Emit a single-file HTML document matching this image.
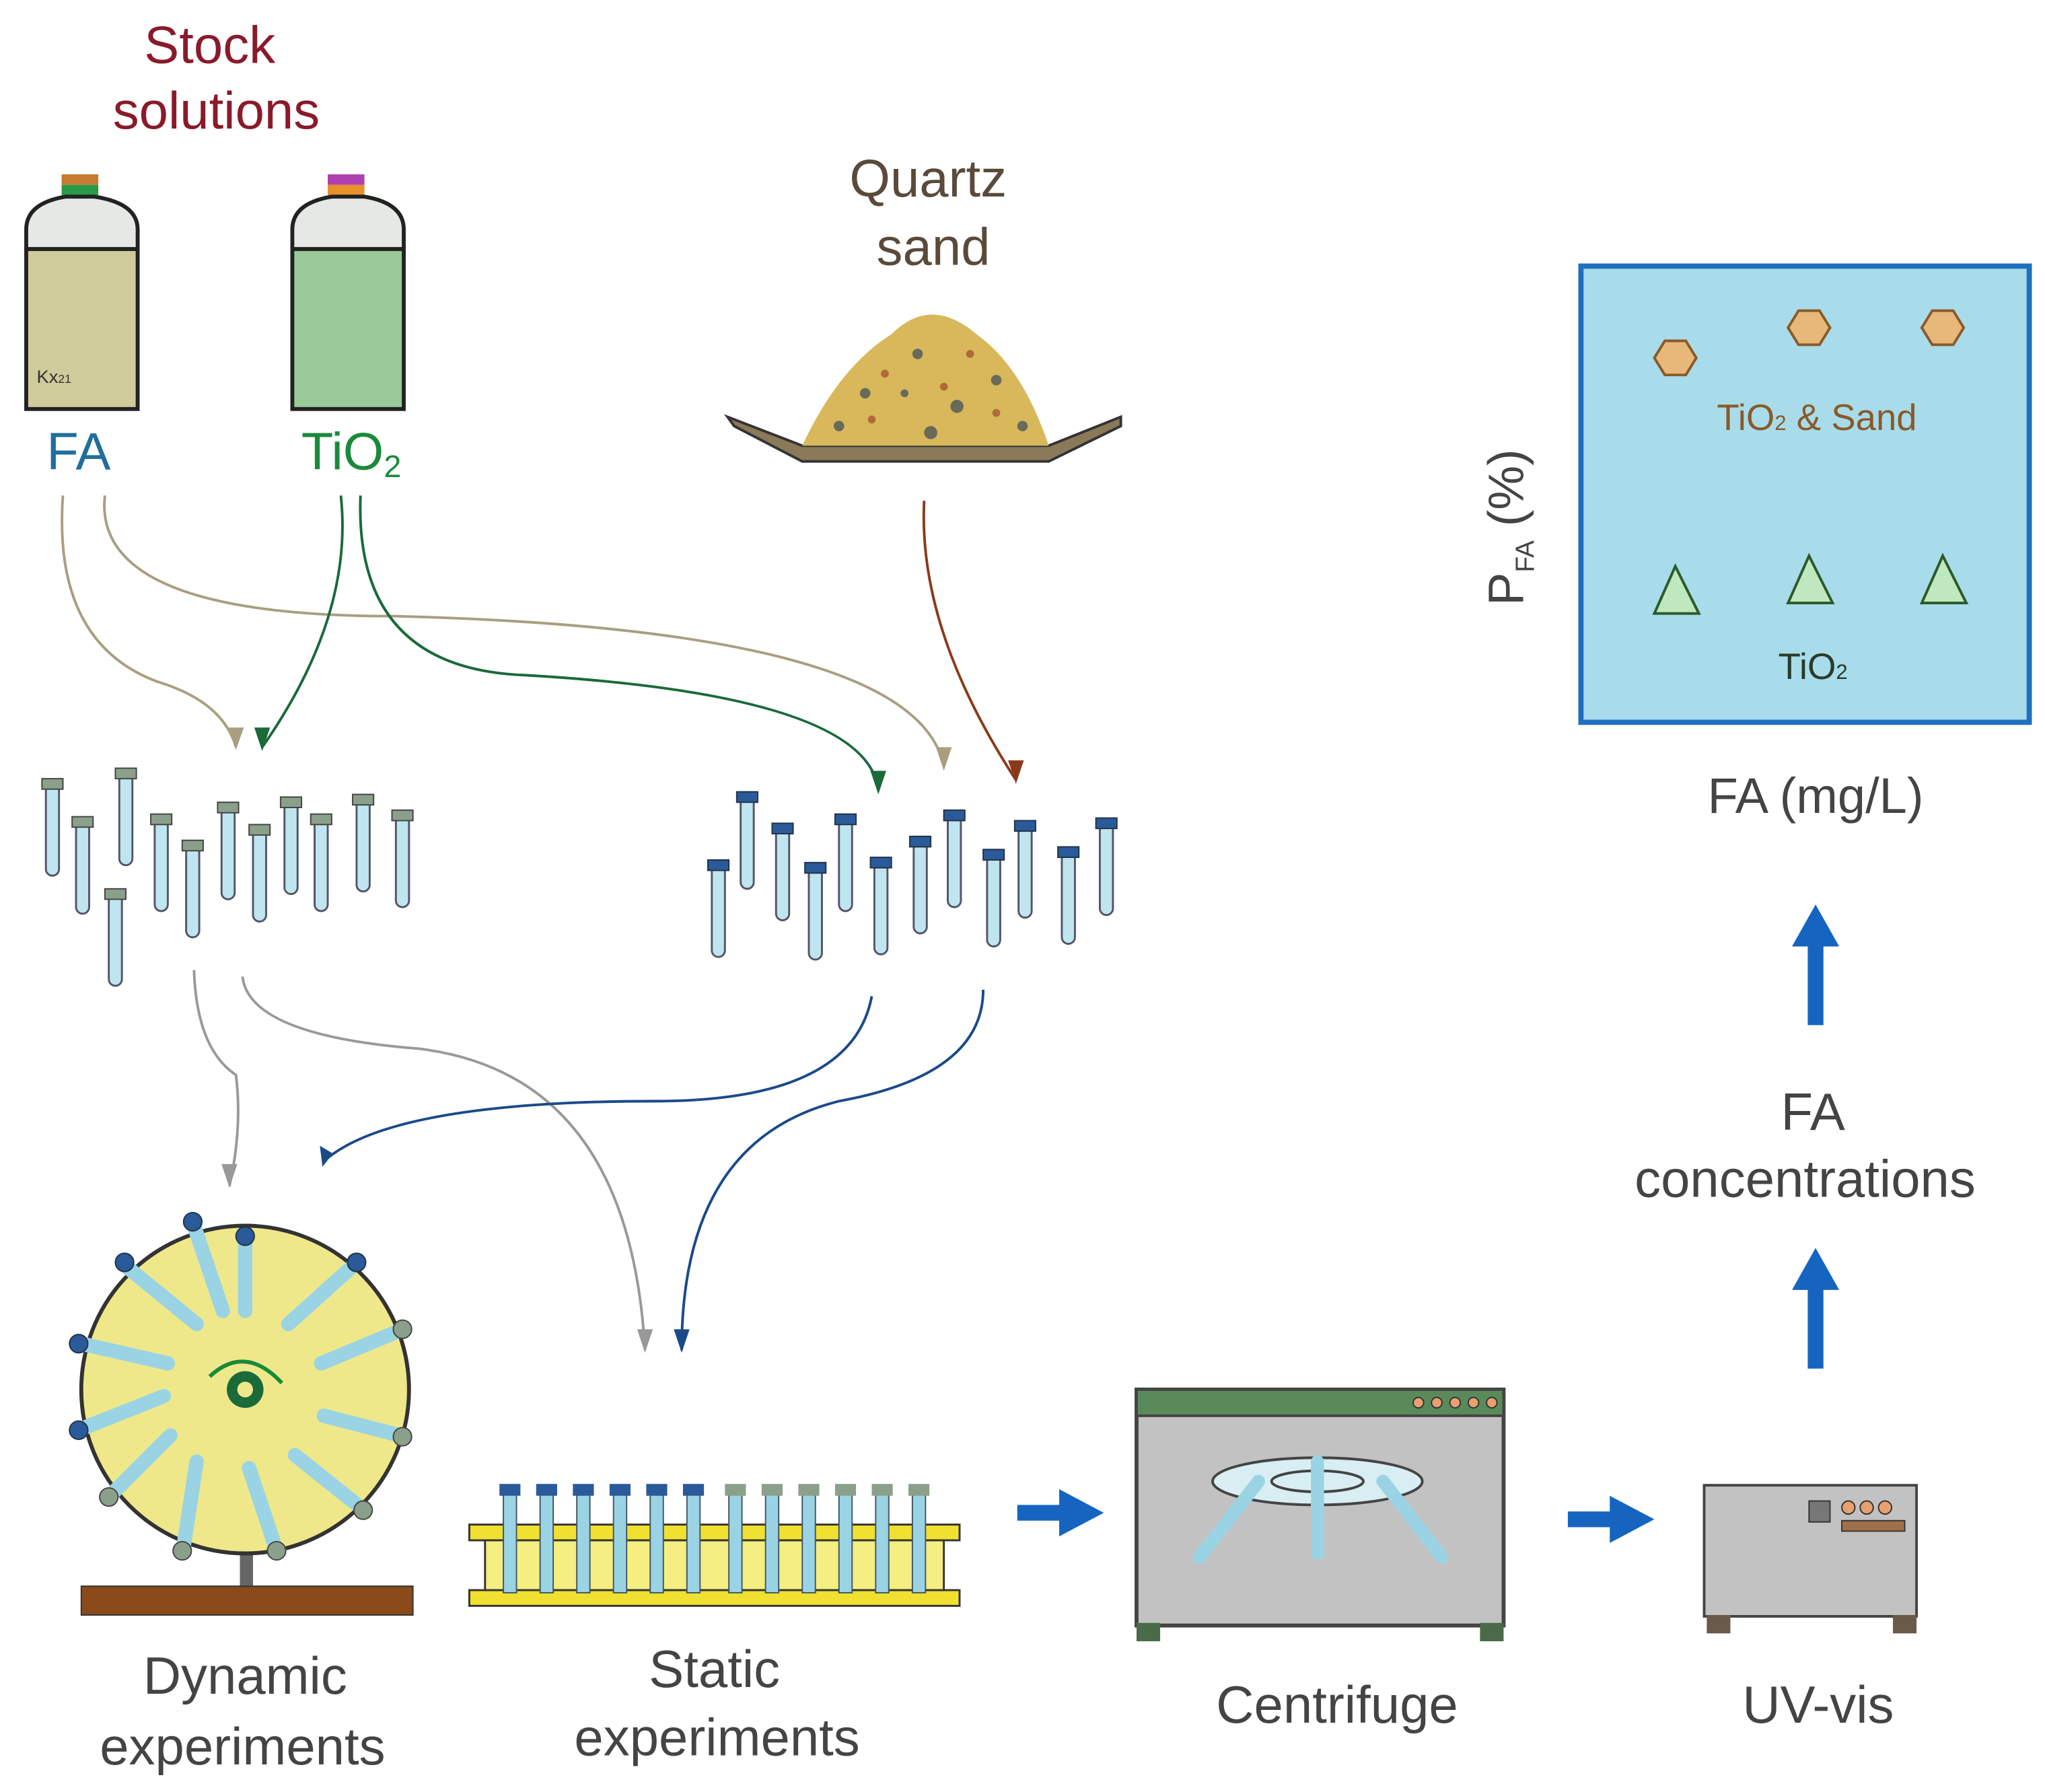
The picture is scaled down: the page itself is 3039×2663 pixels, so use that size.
<!DOCTYPE html>
<html><head><meta charset="utf-8"><style>html,body{margin:0;padding:0;background:#fff}svg{display:block}</style></head><body>
<svg width="3039" height="2663" viewBox="0 0 1560 1367" xmlns="http://www.w3.org/2000/svg" font-family="Liberation Sans, sans-serif">
<defs>
<g id="tg"><rect x="-5" y="0" width="10" height="70" rx="5" fill="#bfe6f0" stroke="#556" stroke-width="1.5"/><rect x="-8" y="-4" width="16" height="8" fill="#8aa08a" stroke="#444"/></g>
<g id="tb"><rect x="-5" y="0" width="10" height="70" rx="5" fill="#bfe6f0" stroke="#556" stroke-width="1.5"/><rect x="-8" y="-4" width="16" height="8" fill="#2a5a9a" stroke="#234"/></g>
</defs>
<rect width="1560" height="1367" fill="#fff"/>
<g font-size="40" text-anchor="middle">
<text x="160" y="48" fill="#8a1a2a">Stock</text>
<text x="165" y="98" fill="#8a1a2a">solutions</text>
<text x="708" y="150" fill="#5a4a3a">Quartz</text>
<text x="712" y="202" fill="#5a4a3a">sand</text>
<text x="60" y="358" fill="#1f6e9e">FA</text>
<text x="268" y="358" fill="#1a8a3a">TiO<tspan font-size="24" dy="6">2</tspan></text>
</g>
<rect x="47" y="133" width="28" height="8" fill="#c87a30"/><rect x="47" y="141" width="28" height="8" fill="#2a9a4a"/>
<path d="M20,190 L20,175 Q20,155 50,150 L72,150 Q105,155 105,175 L105,190Z" fill="#e6e8e6" stroke="#222" stroke-width="3"/>
<rect x="20" y="190" width="85" height="122" fill="#cfcb9a" stroke="#222" stroke-width="3"/>
<text x="28" y="292" font-size="14" fill="#333">Kx<tspan font-size="9">21</tspan></text>
<rect x="250" y="133" width="28" height="8" fill="#b040b0"/><rect x="250" y="141" width="28" height="8" fill="#e8902a"/>
<path d="M223,190 L223,175 Q223,155 253,150 L278,150 Q308,155 308,175 L308,190Z" fill="#e6e8e6" stroke="#222" stroke-width="3"/>
<rect x="223" y="190" width="85" height="122" fill="#99c999" stroke="#222" stroke-width="3"/>
<path d="M555,318 L560,325 L612,352 L800,352 L855,325 L855,318 L800,340 L612,340 Z" fill="#8a7a5a" stroke="#333" stroke-width="2"/>
<path d="M612,340 Q640,280 680,255 Q710,225 745,255 Q780,280 800,340 Z" fill="#d8b85a"/>
<g fill="#6a6a5a"><circle cx="660" cy="300" r="4"/><circle cx="700" cy="270" r="4"/><circle cx="730" cy="310" r="5"/><circle cx="760" cy="290" r="4"/><circle cx="640" cy="325" r="4"/><circle cx="780" cy="325" r="4"/><circle cx="710" cy="330" r="5"/><circle cx="690" cy="300" r="3"/></g>
<g fill="#b06a3a"><circle cx="675" cy="285" r="3"/><circle cx="740" cy="270" r="3"/><circle cx="720" cy="295" r="3"/><circle cx="665" cy="320" r="3"/><circle cx="760" cy="315" r="3"/></g>
<rect x="1206" y="203" width="342" height="348" fill="#a8dcea" stroke="#1f6fbf" stroke-width="4"/>
<g fill="#e8b87a" stroke="#8a5a2a" stroke-width="2">
<polygon points="1262,273 1270,260 1286,260 1294,273 1286,286 1270,286"/>
<polygon points="1364,250 1372,237 1388,237 1396,250 1388,263 1372,263"/>
<polygon points="1466,250 1474,237 1490,237 1498,250 1490,263 1474,263"/></g>
<g fill="#bfe8bf" stroke="#2a5a2a" stroke-width="2">
<polygon points="1278,432 1262,468 1296,468"/><polygon points="1380,424 1364,460 1398,460"/><polygon points="1482,424 1466,460 1500,460"/></g>
<text x="1386" y="328" font-size="28" text-anchor="middle" fill="#8a5a2a">TiO<tspan font-size="16">2</tspan> &amp; Sand</text>
<text x="1383" y="518" font-size="28" text-anchor="middle" fill="#2a3a2a">TiO<tspan font-size="16">2</tspan></text>
<text transform="translate(1162,462) rotate(-90)" font-size="38" fill="#444">P<tspan font-size="20" dy="8">FA</tspan><tspan dy="-8"> (%)</tspan></text>
<text x="1385" y="620" font-size="38" text-anchor="middle" fill="#444">FA (mg/L)</text>
<text x="1383" y="862" font-size="40" text-anchor="middle" fill="#444">FA</text>
<text x="1377" y="913" font-size="40" text-anchor="middle" fill="#444">concentrations</text>
<g fill="#1565c0">
<rect x="1379" y="718" width="12" height="64"/><polygon points="1367,722 1385,690 1403,722"/>
<rect x="1379" y="980" width="12" height="64"/><polygon points="1367,984 1385,952 1403,984"/>
<rect x="776" y="1148" width="34" height="12"/><polygon points="808,1136 842,1154 808,1172"/>
<rect x="1196" y="1153" width="34" height="12"/><polygon points="1228,1141 1262,1159 1228,1177"/>
</g>
<g fill="none" stroke-width="2">
<path d="M48,378 Q40,490 120,520 Q170,535 180,570" stroke="#a89f80"/>
<path d="M80,378 Q70,470 300,470 Q700,480 720,585" stroke="#a89f80"/>
<path d="M260,378 Q270,470 200,570" stroke="#1a6a3a"/>
<path d="M275,378 Q270,510 400,515 Q660,530 670,602" stroke="#1a6a3a"/>
<path d="M705,382 Q700,480 775,595" stroke="#8a3a1a"/>
<path d="M148,740 Q150,800 180,820 Q185,860 175,905" stroke="#999"/>
<path d="M185,745 Q190,790 320,800 Q480,820 492,1030" stroke="#999"/>
<path d="M665,760 Q650,840 500,840 Q300,840 248,885" stroke="#1a4a8a"/>
<path d="M750,755 Q750,820 640,840 Q520,870 520,1030" stroke="#1a4a8a"/>
</g>
<g>
<polygon points="174,555 186,555 180,572" fill="#a89f80"/><polygon points="714,570 726,570 720,588" fill="#a89f80"/>
<polygon points="194,555 206,555 200,573" fill="#1a6a3a"/><polygon points="664,588 676,588 670,606" fill="#1a6a3a"/>
<polygon points="769,580 781,580 775,598" fill="#8a3a1a"/>
<polygon points="169,888 181,888 175,906" fill="#999"/><polygon points="486,1014 498,1014 492,1032" fill="#999"/>
<polygon points="244,874 254,880 246,890" fill="#1a4a8a"/><polygon points="514,1014 526,1014 520,1032" fill="#1a4a8a"/>
</g>
<use href="#tg" x="40" y="598"/><use href="#tg" x="63" y="627"/><use href="#tg" x="88" y="682"/><use href="#tg" x="96" y="590"/><use href="#tg" x="123" y="625"/><use href="#tg" x="147" y="645"/><use href="#tg" x="174" y="616"/><use href="#tg" x="198" y="633"/><use href="#tg" x="222" y="612"/><use href="#tg" x="245" y="625"/><use href="#tg" x="277" y="610"/><use href="#tg" x="307" y="622"/>
<use href="#tb" x="548" y="660"/><use href="#tb" x="570" y="608"/><use href="#tb" x="597" y="632"/><use href="#tb" x="622" y="662"/><use href="#tb" x="645" y="625"/><use href="#tb" x="672" y="658"/><use href="#tb" x="702" y="642"/><use href="#tb" x="728" y="622"/><use href="#tb" x="758" y="652"/><use href="#tb" x="782" y="630"/><use href="#tb" x="815" y="650"/><use href="#tb" x="844" y="628"/>
<rect x="183" y="1150" width="10" height="62" fill="#666"/>
<rect x="62" y="1210" width="253" height="22" fill="#8a4a1a" stroke="#333"/>
<circle cx="187" cy="1060" r="125" fill="#efe88a" stroke="#333" stroke-width="3"/>
<g stroke-width="11" stroke-linecap="round" stroke="#9ad4e4">
<line x1="187" y1="1000" x2="187" y2="945"/><line x1="220" y1="1010" x2="270" y2="965"/><line x1="245" y1="1040" x2="305" y2="1015"/><line x1="247" y1="1080" x2="305" y2="1095"/><line x1="225" y1="1110" x2="275" y2="1150"/><line x1="190" y1="1120" x2="210" y2="1180"/><line x1="150" y1="1115" x2="140" y2="1180"/><line x1="130" y1="1095" x2="85" y2="1140"/><line x1="125" y1="1065" x2="62" y2="1090"/><line x1="128" y1="1040" x2="62" y2="1025"/><line x1="150" y1="1010" x2="95" y2="965"/><line x1="170" y1="1000" x2="148" y2="935"/>
</g>
<g fill="#2a5a9a" stroke="#234"><circle cx="187" cy="943" r="7"/><circle cx="272" cy="963" r="7"/><circle cx="95" cy="963" r="7"/><circle cx="147" cy="932" r="7"/><circle cx="60" cy="1025" r="7"/><circle cx="60" cy="1091" r="7"/></g>
<g fill="#8aa08a" stroke="#444"><circle cx="307" cy="1014" r="7"/><circle cx="307" cy="1096" r="7"/><circle cx="277" cy="1152" r="7"/><circle cx="211" cy="1183" r="7"/><circle cx="139" cy="1183" r="7"/><circle cx="83" cy="1142" r="7"/></g>
<circle cx="187" cy="1060" r="14" fill="#1a6a3a"/><circle cx="187" cy="1060" r="6" fill="#efe88a"/>
<path d="M160,1050 Q187,1025 215,1055" fill="none" stroke="#1a8a3a" stroke-width="3"/>
<g stroke="#333" stroke-width="1.5">
<rect x="358" y="1163" width="374" height="12" fill="#f0e030"/>
<rect x="358" y="1213" width="374" height="12" fill="#f0e030"/>
<rect x="370" y="1175" width="350" height="38" fill="#f5ee80"/>
</g>
<g fill="#9ad4e4" stroke="#456">
<rect x="384" y="1140" width="10" height="75"/><rect x="412" y="1140" width="10" height="75"/><rect x="440" y="1140" width="10" height="75"/><rect x="468" y="1140" width="10" height="75"/><rect x="496" y="1140" width="10" height="75"/><rect x="524" y="1140" width="10" height="75"/><rect x="556" y="1140" width="10" height="75"/><rect x="584" y="1140" width="10" height="75"/><rect x="612" y="1140" width="10" height="75"/><rect x="640" y="1140" width="10" height="75"/><rect x="668" y="1140" width="10" height="75"/><rect x="696" y="1140" width="10" height="75"/>
</g>
<g fill="#2a5a9a"><rect x="381" y="1132" width="16" height="9"/><rect x="409" y="1132" width="16" height="9"/><rect x="437" y="1132" width="16" height="9"/><rect x="465" y="1132" width="16" height="9"/><rect x="493" y="1132" width="16" height="9"/><rect x="521" y="1132" width="16" height="9"/></g>
<g fill="#8aa08a"><rect x="553" y="1132" width="16" height="9"/><rect x="581" y="1132" width="16" height="9"/><rect x="609" y="1132" width="16" height="9"/><rect x="637" y="1132" width="16" height="9"/><rect x="665" y="1132" width="16" height="9"/><rect x="693" y="1132" width="16" height="9"/></g>
<rect x="867" y="1060" width="280" height="180" fill="#c2c2c2" stroke="#444" stroke-width="3"/>
<rect x="867" y="1060" width="280" height="20" fill="#5a8a5a" stroke="#444" stroke-width="2"/>
<g fill="#e8a070" stroke="#333"><circle cx="1082" cy="1070" r="4"/><circle cx="1096" cy="1070" r="4"/><circle cx="1110" cy="1070" r="4"/><circle cx="1124" cy="1070" r="4"/><circle cx="1138" cy="1070" r="4"/></g>
<rect x="867" y="1238" width="18" height="14" fill="#4a6a4a"/><rect x="1129" y="1238" width="18" height="14" fill="#4a6a4a"/>
<ellipse cx="1005" cy="1130" rx="80" ry="18" fill="#d8eef2" stroke="#444" stroke-width="2"/>
<ellipse cx="1005" cy="1130" rx="35" ry="8" fill="none" stroke="#444" stroke-width="2"/>
<g stroke="#9ad4e4" stroke-width="10" stroke-linecap="round"><line x1="960" y1="1130" x2="915" y2="1188"/><line x1="1055" y1="1130" x2="1100" y2="1188"/><line x1="1005" y1="1115" x2="1005" y2="1185"/></g>
<rect x="1300" y="1133" width="162" height="100" fill="#c2c2c2" stroke="#444" stroke-width="2"/>
<rect x="1302" y="1232" width="18" height="14" fill="#6a5a4a"/><rect x="1444" y="1232" width="18" height="14" fill="#6a5a4a"/>
<rect x="1380" y="1145" width="16" height="16" fill="#777" stroke="#333"/>
<g fill="#e8a070" stroke="#333"><circle cx="1410" cy="1150" r="5"/><circle cx="1424" cy="1150" r="5"/><circle cx="1438" cy="1150" r="5"/></g>
<rect x="1405" y="1160" width="48" height="8" fill="#a0704a" stroke="#333"/>
<g font-size="40" text-anchor="middle" fill="#444">
<text x="187" y="1292">Dynamic</text><text x="185" y="1346">experiments</text>
<text x="545" y="1287">Static</text><text x="547" y="1339">experiments</text>
<text x="1020" y="1314">Centrifuge</text><text x="1387" y="1314">UV-vis</text>
</g>
</svg>
</body></html>
